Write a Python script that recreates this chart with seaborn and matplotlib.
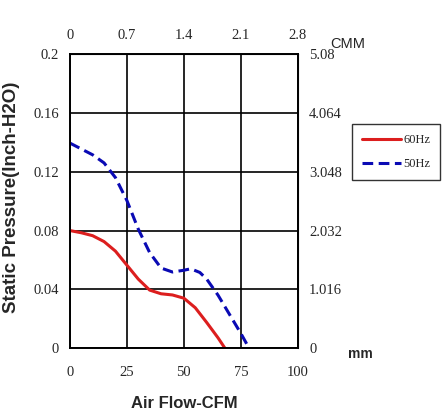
import pandas as pd
import seaborn as sns
import matplotlib.pyplot as plt

# fan curve values (CFM vs inch H2O)
flow_60 = [0, 5, 10, 15, 20, 25, 30, 35, 40, 45, 50, 55, 60, 65, 68]
press_60 = [0.080, 0.0785, 0.0765, 0.0725, 0.066, 0.0565, 0.047, 0.0395, 0.037,
            0.0362, 0.034, 0.0275, 0.0175, 0.007, 0.0]
flow_50 = [0, 5, 10, 15, 20, 25, 30, 35, 40, 45, 50, 53, 57, 60, 65, 70, 75, 78.6]
press_50 = [0.1395, 0.1355, 0.1315, 0.126, 0.116, 0.1005, 0.081, 0.065, 0.0545,
            0.0518, 0.053, 0.054, 0.0515, 0.047, 0.036, 0.023, 0.010, 0.0]

x_ticks = [0, 25, 50, 75, 100]
y_ticks = [0, 0.04, 0.08, 0.12, 0.16, 0.2]
y_labels = ["0", "0.04", "0.08", "0.12", "0.16", "0.2"]
cmm_ticks = [0, 0.7, 1.4, 2.1, 2.8]
mm_ticks = [0, 1.016, 2.032, 3.048, 4.064, 5.08]
mm_labels = ["0", "1.016", "2.032", "3.048", "4.064", "5.08"]

df = pd.concat([
    pd.DataFrame({"flow": flow_60, "pressure": press_60, "curve": "60Hz"}),
    pd.DataFrame({"flow": flow_50, "pressure": press_50, "curve": "50Hz"}),
], ignore_index=True)

sns.set_style("white")
serif = "Liberation Serif"
sans = "Liberation Sans"

fig = plt.figure(figsize=(4.42, 4.16), dpi=100)
ax = fig.add_axes([0.158, 0.163, 0.516, 0.707])

sns.lineplot(data=df, x="flow", y="pressure", hue="curve", style="curve",
             palette={"60Hz": "#dc1e1e", "50Hz": "#0a0ab4"},
             dashes={"60Hz": "", "50Hz": (3.5, 1.8)},
             linewidth=2.2, sort=False, ax=ax, legend=False)

ax.set_xlim(0, 100)
ax.set_ylim(0, 0.2)
ax.set_xticks(x_ticks)
ax.set_xticklabels([str(t) for t in x_ticks])
ax.set_yticks(y_ticks)
ax.set_yticklabels(y_labels)
ax.grid(True, color="black", linewidth=1.2)
for s in ax.spines.values():
    s.set_color("black")
    s.set_linewidth(1.4)
ax.tick_params(length=0, labelsize=10.5)
ax.tick_params(axis="x", pad=13)
ax.tick_params(axis="y", pad=8)
for lab in ax.get_xticklabels() + ax.get_yticklabels():
    lab.set_family(serif)

ax.set_xlabel("Air Flow-CFM", fontfamily=sans, fontweight="bold", fontsize=12, labelpad=12)
ax.set_ylabel("")
fig.text(12 / 442, 1 - 197 / 416, "Static Pressure(Inch-H2O)", fontfamily=sans,
         fontweight="bold", fontsize=13.5, rotation=90, ha="center", va="center")

top = ax.secondary_xaxis("top", functions=(lambda v: v * 0.028, lambda v: v / 0.028))
top.set_xticks(cmm_ticks)
top.set_xticklabels([str(t) if t else "0" for t in cmm_ticks])
top.tick_params(length=0, labelsize=10.5, pad=9)
for lab in top.get_xticklabels():
    lab.set_family(serif)

right = ax.secondary_yaxis("right", functions=(lambda v: v * 25.4, lambda v: v / 25.4))
right.set_yticks(mm_ticks)
right.set_yticklabels(mm_labels)
right.tick_params(length=0, labelsize=10.5, pad=8)
for lab in right.get_yticklabels():
    lab.set_family(serif)

fig.text(330 / 442, 1 - 44 / 416, "CMM", fontfamily=sans, fontsize=10.5, va="center", ha="left")
fig.text(348 / 442, 1 - 354 / 416, "mm", fontfamily=sans, fontweight="bold", fontsize=10,
         va="center", ha="left")

handles = [plt.Line2D([], [], color="#dc1e1e", linewidth=2.2),
           plt.Line2D([], [], color="#0a0ab4", linewidth=2.2, dashes=(3.5, 1.8))]
leg = fig.legend(handles, ["60Hz", "50Hz"], loc="upper left",
                 bbox_to_anchor=(352 / 442, 1 - 124 / 416), borderaxespad=0, frameon=True,
                 prop={"family": serif, "size": 9}, handlelength=3.1,
                 handletextpad=0.2, borderpad=0.8, labelspacing=0.95, fancybox=False)
leg.get_frame().set_edgecolor("black")
leg.get_frame().set_linewidth(1.0)

fig.savefig("out.png", dpi=100)
